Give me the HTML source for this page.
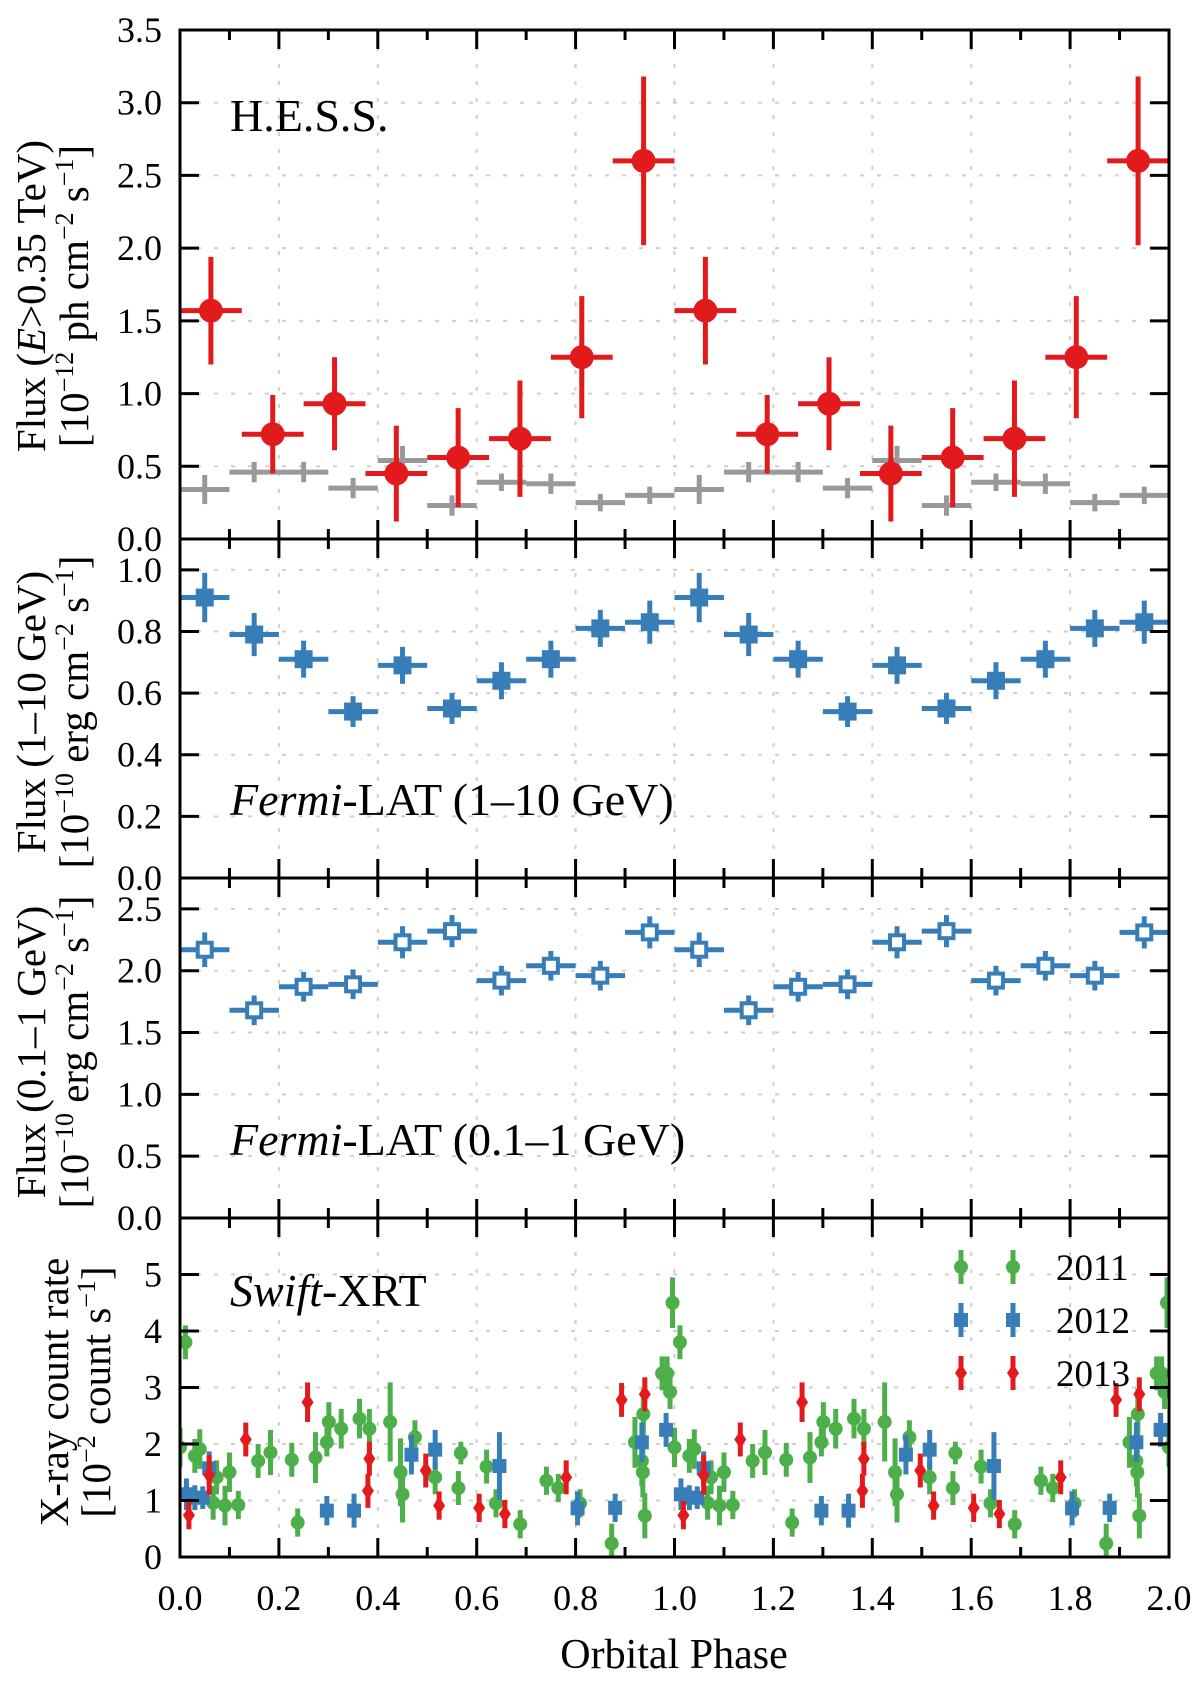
<!DOCTYPE html>
<html><head><meta charset="utf-8">
<style>
html,body{margin:0;padding:0;background:#fff;}
svg{display:block;font-family:"Liberation Serif",serif;}
</style></head>
<body>
<svg id="chart" width="1200" height="1685" viewBox="0 0 1200 1685" xmlns="http://www.w3.org/2000/svg"></svg>
<script>
// ---- data (one orbital period, repeated over phase 0–2) ----
const hessPhase = [0.0625,0.1875,0.3125,0.4375,0.5625,0.6875,0.8125,0.9375];
const hessFlux  = [1.57,0.72,0.93,0.45,0.56,0.69,1.25,2.60];
const hessErr   = [0.37,0.27,0.32,0.33,0.34,0.40,0.42,0.58];
const grayPhase = [0.05,0.15,0.25,0.35,0.45,0.55,0.65,0.75,0.85,0.95];
const grayFlux  = [0.34,0.46,0.46,0.35,0.54,0.23,0.39,0.38,0.25,0.30];
const grayErr   = [0.10,0.07,0.07,0.07,0.10,0.07,0.06,0.07,0.06,0.06];
const lat1Phase = [0.05,0.15,0.25,0.35,0.45,0.55,0.65,0.75,0.85,0.95];
const lat1Flux  = [0.91,0.79,0.71,0.54,0.69,0.55,0.64,0.71,0.81,0.83];
const lat1Err   = [0.08,0.07,0.06,0.05,0.06,0.05,0.06,0.06,0.06,0.07];
const lat2Flux  = [2.17,1.68,1.87,1.89,2.23,2.32,1.92,2.04,1.96,2.31];
const lat2Err   = [0.14,0.12,0.12,0.12,0.13,0.13,0.12,0.12,0.12,0.13];
const x11Phase = [0.0,0.03,0.04,0.067,0.074,0.091,0.10,0.118,0.158,0.183,0.226,0.238,0.274,0.297,0.301,0.326,0.363,0.383,0.425,0.446,0.45,0.475,0.516,0.563,0.568,0.62,0.639,0.688,0.741,0.765,0.809,0.873,0.92,0.934,0.936,0.937,0.94,0.975,0.985,0.991,0.996,0.011];
const x11Rate  = [1.94,1.79,1.91,0.96,1.41,0.91,1.50,0.92,1.70,1.85,1.72,0.61,1.76,2.03,2.39,2.27,2.45,2.27,2.39,1.50,1.11,2.12,1.41,1.22,1.84,1.60,0.95,0.58,1.35,1.22,0.95,0.24,2.03,1.70,1.50,2.53,0.73,3.25,3.25,2.92,4.50,3.80];
const x11Err   = [0.35,0.3,0.35,0.3,0.3,0.35,0.35,0.25,0.3,0.4,0.3,0.25,0.45,0.25,0.35,0.35,0.35,0.35,0.7,0.6,0.5,0.3,0.3,0.3,0.2,0.3,0.25,0.25,0.25,0.25,0.25,0.35,0.45,0.45,0.45,0.45,0.4,0.3,0.3,0.3,0.45,0.3];
const x12Phase = [0.013,0.03,0.046,0.059,0.297,0.352,0.468,0.516,0.646,0.804,0.88,0.934,0.983];
const x12Rate  = [1.11,1.05,1.05,1.57,0.82,0.82,1.81,1.90,1.61,0.86,0.87,2.03,2.25];
const x12Err   = [0.28,0.22,0.2,0.3,0.26,0.3,0.35,0.35,0.6,0.3,0.25,0.35,0.3];
const x13Phase = [0.018,0.059,0.133,0.258,0.38,0.383,0.497,0.524,0.605,0.657,0.781,0.893,0.94];
const x13Rate  = [0.74,1.45,2.08,2.74,1.17,1.74,1.53,0.91,0.87,0.76,1.41,2.78,2.88];
const x13Err   = [0.25,0.35,0.3,0.35,0.3,0.3,0.3,0.25,0.25,0.25,0.3,0.3,0.3];
const xTickLabels = ["0.0","0.2","0.4","0.6","0.8","1.0","1.2","1.4","1.6","1.8","2.0"];

const NS="http://www.w3.org/2000/svg";
const svg=document.getElementById('chart');
const L=180,R=1169;
const X=p=>L+(p/2)*(R-L);
function el(tag,attrs,parent){const e=document.createElementNS(NS,tag);for(const k in attrs)e.setAttribute(k,attrs[k]);(parent||svg).appendChild(e);return e;}
const panels=[
 {name:'hess',top:30,bot:539,ymax:3.5,ticks:[0,0.5,1,1.5,2,2.5,3,3.5],fmt:v=>v.toFixed(1)},
 {name:'lat-high',top:539,bot:878,ymax:1.1,ticks:[0,0.2,0.4,0.6,0.8,1.0],fmt:v=>v.toFixed(1)},
 {name:'lat-low',top:878,bot:1218,ymax:2.75,ticks:[0,0.5,1,1.5,2,2.5],fmt:v=>v.toFixed(1)},
 {name:'xrt',top:1218,bot:1557,ymax:6,ticks:[0,1,2,3,4,5],fmt:v=>String(v)}
];
panels.forEach(P=>{P.Y=v=>P.bot-(v/P.ymax)*(P.bot-P.top);});

panels.forEach(P=>{
  const g=el('g',{});
  
  
  for(let i=1;i<10;i++){el('line',{x1:X(i*0.2),x2:X(i*0.2),y1:P.top,y2:P.bot,stroke:'#cfcfcf','stroke-width':2,'stroke-dasharray':'4 13'},g);}
  P.ticks.forEach(t=>{if(t>0&&t<P.ymax-1e-9)el('line',{x1:L,x2:R,y1:P.Y(t),y2:P.Y(t),stroke:'#cfcfcf','stroke-width':2,'stroke-dasharray':'4 13'},g);});
});

function errbar(g,p,v,xe,ye,P,color,w){
  if(xe>0){el('line',{x1:Math.max(L,X(p-xe)),x2:Math.min(R,X(p+xe)),y1:P.Y(v),y2:P.Y(v),stroke:color,'stroke-width':w},g);}
  el('line',{x1:X(p),x2:X(p),y1:P.Y(v-ye),y2:P.Y(v+ye),stroke:color,'stroke-width':w},g);
}
const rep=[0,1];
{const P=panels[0];const g=el('g',{});
 rep.forEach(o=>grayPhase.forEach((p,i)=>{errbar(g,p+o,grayFlux[i],0.05,grayErr[i],P,'#999',5);}));}
{const P=panels[0];const g=el('g',{});
 rep.forEach(o=>hessPhase.forEach((p,i)=>{errbar(g,p+o,hessFlux[i],0.0625,hessErr[i],P,'#e31a1c',5);
  const c=el('circle',{cx:X(p+o),cy:P.Y(hessFlux[i]),r:12,fill:'#e31a1c'},g);
  }));}
{const P=panels[1];const g=el('g',{});
 rep.forEach(o=>lat1Phase.forEach((p,i)=>{errbar(g,p+o,lat1Flux[i],0.05,lat1Err[i],P,'#377eb8',5);
  const s=el('rect',{x:X(p+o)-9,y:P.Y(lat1Flux[i])-9,width:18,height:18,fill:'#377eb8'},g);
  }));}
{const P=panels[2];const g=el('g',{});
 rep.forEach(o=>lat1Phase.forEach((p,i)=>{errbar(g,p+o,lat2Flux[i],0.05,lat2Err[i],P,'#377eb8',5);
  const s=el('rect',{x:X(p+o)-7,y:P.Y(lat2Flux[i])-7,width:14,height:14,fill:'#fff',stroke:'#377eb8','stroke-width':4},g);
  }));}
function marker(g,kind,cx,cy,color){
  if(kind==='circle')return el('circle',{cx:cx,cy:cy,r:7,fill:color},g);
  if(kind==='square')return el('rect',{x:cx-7,y:cy-7,width:14,height:14,fill:color},g);
  return el('polygon',{points:`${cx},${cy-9} ${cx+6},${cy} ${cx},${cy+9} ${cx-6},${cy}`,fill:color},g);
}
const clip=el('clipPath',{id:'xclip'});el('rect',{x:L,y:1218,width:R-L,height:339},clip);
[[x11Phase,x11Rate,x11Err,'#4daf4a','circle','xrt-2011-series'],
 [x12Phase,x12Rate,x12Err,'#377eb8','square','xrt-2012-series'],
 [x13Phase,x13Rate,x13Err,'#e31a1c','diamond','xrt-2013-series']].forEach(([ph,rt,er,col,k,nm])=>{
  const P=panels[3];const g=el('g',{'clip-path':'url(#xclip)'});
  [0,1,2].forEach(o=>ph.forEach((p,i)=>{const pp=p+o;if(pp>2.02)return;
    errbar(g,pp,rt[i],0,er[i],P,col,5);
    const m=marker(g,k,X(pp),P.Y(rt[i]),col);
    }));
});

panels.forEach((P,pi)=>{
  const g=el('g',{});
  el('rect',{x:L,y:P.top,width:R-L,height:P.bot-P.top,fill:'none',stroke:'#000','stroke-width':3},g);
  for(let i=1;i<20;i++){const x=X(i*0.1);const len=(i%2===0)?19:10;
    el('line',{x1:x,x2:x,y1:P.bot,y2:P.bot-len,stroke:'#000','stroke-width':3},g);
    el('line',{x1:x,x2:x,y1:P.top,y2:P.top+len,stroke:'#000','stroke-width':3},g);}
  P.ticks.forEach(t=>{const y=P.Y(t);
    el('line',{x1:L,x2:L+19,y1:y,y2:y,stroke:'#000','stroke-width':3},g);
    el('line',{x1:R,x2:R-19,y1:y,y2:y,stroke:'#000','stroke-width':3},g);
    const tx=el('text',{x:162,y:y+12,'text-anchor':'end','font-size':36},g);tx.textContent=P.fmt(t);
    });
});
xTickLabels.forEach((s,i)=>{const t=el('text',{x:X(i*0.2),y:1610,'text-anchor':'middle','font-size':36});t.textContent=s;
  });
</script>
<svg style="position:absolute;left:0;top:0" width="1200" height="1685" xmlns="http://www.w3.org/2000/svg" font-family="Liberation Serif, serif">
 <text x="674" y="1668" text-anchor="middle" font-size="42">Orbital Phase</text>
 <text x="230" y="131" font-size="46">H.E.S.S.</text>
 <text x="230" y="815" font-size="46"><tspan font-style="italic">Fermi</tspan>-LAT (1–10 GeV)</text>
 <text x="230" y="1155" font-size="46"><tspan font-style="italic">Fermi</tspan>-LAT (0.1–1 GeV)</text>
 <text x="230" y="1306" font-size="46"><tspan font-style="italic">Swift</tspan>-XRT</text>
 <g transform="translate(0,296) rotate(-90)" font-size="41" text-anchor="middle">
  <text x="0" y="45">Flux (<tspan font-style="italic">E</tspan>&gt;0.35 TeV)</text>
  <text x="0" y="88">[10<tspan dy="-15" font-size="26">−12</tspan><tspan dy="15"> ph cm</tspan><tspan dy="-15" font-size="26">−2</tspan><tspan dy="15"> s</tspan><tspan dy="-15" font-size="26">−1</tspan><tspan dy="15">]</tspan></text>
 </g>
 <g transform="translate(0,712) rotate(-90)" font-size="41" text-anchor="middle">
  <text x="0" y="45">Flux (1–10 GeV)</text>
  <text x="0" y="88">[10<tspan dy="-15" font-size="26">−10</tspan><tspan dy="15"> erg cm</tspan><tspan dy="-15" font-size="26">−2</tspan><tspan dy="15"> s</tspan><tspan dy="-15" font-size="26">−1</tspan><tspan dy="15">]</tspan></text>
 </g>
 <g transform="translate(0,1052) rotate(-90)" font-size="41" text-anchor="middle">
  <text x="0" y="45">Flux (0.1–1 GeV)</text>
  <text x="0" y="88">[10<tspan dy="-15" font-size="26">−10</tspan><tspan dy="15"> erg cm</tspan><tspan dy="-15" font-size="26">−2</tspan><tspan dy="15"> s</tspan><tspan dy="-15" font-size="26">−1</tspan><tspan dy="15">]</tspan></text>
 </g>
 <g transform="translate(0,1392) rotate(-90)" font-size="41" text-anchor="middle">
  <text x="0" y="68">X-ray count rate</text>
  <text x="0" y="110">[10<tspan dy="-15" font-size="26">−2</tspan><tspan dy="15"> count s</tspan><tspan dy="-15" font-size="26">−1</tspan><tspan dy="15">]</tspan></text>
 </g>
 <g font-size="37">
  <g>
   <line x1="961" x2="961" y1="1250" y2="1284" stroke="#4daf4a" stroke-width="5"/><circle cx="961" cy="1267" r="7" fill="#4daf4a"/>
   <line x1="1013" x2="1013" y1="1250" y2="1284" stroke="#4daf4a" stroke-width="5"/><circle cx="1013" cy="1267" r="7" fill="#4daf4a"/>
   <text x="1056" y="1280">2011</text>
  </g>
  <g>
   <line x1="961" x2="961" y1="1303" y2="1337" stroke="#377eb8" stroke-width="5"/><rect x="954" y="1313" width="14" height="14" fill="#377eb8"/>
   <line x1="1013" x2="1013" y1="1303" y2="1337" stroke="#377eb8" stroke-width="5"/><rect x="1006" y="1313" width="14" height="14" fill="#377eb8"/>
   <text x="1056" y="1333">2012</text>
  </g>
  <g>
   <line x1="961" x2="961" y1="1356" y2="1390" stroke="#e31a1c" stroke-width="5"/><polygon points="961,1364 967,1373 961,1382 955,1373" fill="#e31a1c"/>
   <line x1="1013" x2="1013" y1="1356" y2="1390" stroke="#e31a1c" stroke-width="5"/><polygon points="1013,1364 1019,1373 1013,1382 1007,1373" fill="#e31a1c"/>
   <text x="1056" y="1386">2013</text>
  </g>
 </g>
</svg>
</body></html>
